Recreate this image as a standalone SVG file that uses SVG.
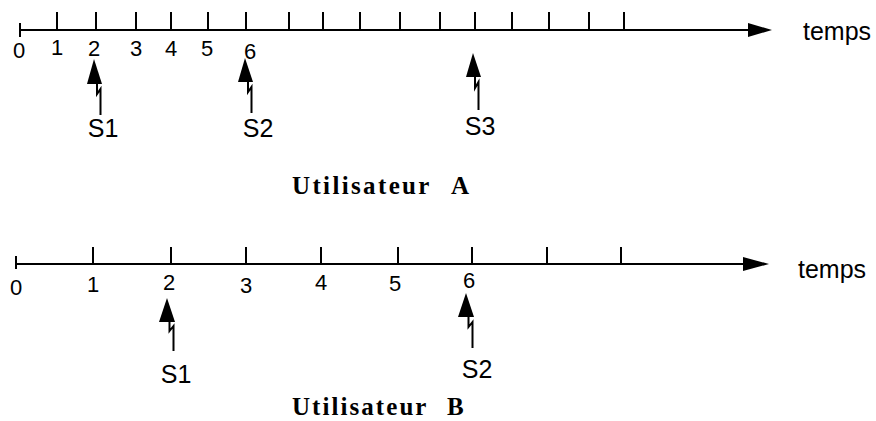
<svg xmlns="http://www.w3.org/2000/svg" width="876" height="421" viewBox="0 0 876 421">
<defs>
<style>
.ax{stroke:#000;stroke-width:2;fill:none}
.tk{stroke:#000;stroke-width:2}
.head{fill:#000}
.sh{stroke:#000;stroke-width:2;fill:none;stroke-linejoin:miter}
.num{font-family:"Liberation Sans",Arial,sans-serif;font-size:22px;fill:#000;text-anchor:middle}
.lbl{font-family:"Liberation Sans",Arial,sans-serif;font-size:25px;fill:#000;text-anchor:middle}
.tm{font-family:"Liberation Sans",Arial,sans-serif;font-size:25px;fill:#000}
.ttl{font-family:"Liberation Serif","Times New Roman",serif;font-size:25px;font-weight:bold;fill:#000}
</style>
</defs>
<rect width="876" height="421" fill="#fff"/>

<g id="axis-A">
<line class="ax" x1="20" y1="30" x2="750" y2="30"/>
<polygon class="head" points="748,23 772,30 748,37"/>
<line class="tk" x1="20" y1="23" x2="20" y2="37"/>
<path class="tk" d="M57,12V30M96,12V30M136,12V30M171,12V30M208,12V30M246,12V30M289,12V30M323,12V30M360,12V30M400,12V30M440,12V30M475,12V30M512,12V30M549,12V30M589,12V30M624,12V30"/>
<text class="num" x="19" y="58">0</text>
<text class="num" x="57" y="55">1</text>
<text class="num" x="94" y="56">2</text>
<text class="num" x="136" y="56">3</text>
<text class="num" x="171" y="56">4</text>
<text class="num" x="207" y="56">5</text>
<text class="num" x="250" y="59">6</text>
<text class="tm" x="803" y="40">temps</text>
</g>

<g id="axis-B">
<line class="ax" x1="16" y1="264" x2="745" y2="264"/>
<polygon class="head" points="743,257 769,264 743,271"/>
<line class="tk" x1="16" y1="256" x2="16" y2="269"/>
<path class="tk" d="M93,247V264M171,247V264M246,247V264M321,247V264M398,247V264M472,247V264M547,247V264M621,247V264"/>
<text class="num" x="16" y="295">0</text>
<text class="num" x="93" y="292">1</text>
<text class="num" x="169" y="290">2</text>
<text class="num" x="246" y="293">3</text>
<text class="num" x="321" y="290">4</text>
<text class="num" x="395" y="291">5</text>
<text class="num" x="469" y="288">6</text>
<text class="tm" x="798" y="278">temps</text>
</g>

<g id="signal-A-S1"><text class="lbl" x="103" y="137">S1</text></g>
<g id="signal-A-S2"><text class="lbl" x="258" y="137">S2</text></g>
<g id="signal-A-S3"><text class="lbl" x="480" y="135">S3</text></g>
<g id="signal-B-S1"><text class="lbl" x="176" y="383">S1</text></g>
<g id="signal-B-S2"><text class="lbl" x="477" y="378">S2</text></g>

<g id="title-A"><text class="ttl" x="292" y="194"><tspan textLength="137" lengthAdjust="spacing">Utilisateur</tspan> <tspan x="451">A</tspan></text></g>
<g id="title-B"><text class="ttl" x="292" y="415"><tspan textLength="134" lengthAdjust="spacing">Utilisateur</tspan> <tspan x="447">B</tspan></text></g>

<g id="connectors">
<polygon class="head" points="94,59 102,84 87,84"/>
<path class="sh" d="M100.5,115V89L97,94V83"/>
<polygon class="head" points="245,58 253,82 238,82"/>
<path class="sh" d="M251.5,113V87L248,92V81"/>
<polygon class="head" points="473,53 481,77 466,77"/>
<path class="sh" d="M478.5,110V82L475,88V76"/>
<polygon class="head" points="167,298 175,322 159,322"/>
<path class="sh" d="M173.5,351V326L169.5,331V321"/>
<polygon class="head" points="466,293 474,317 458,317"/>
<path class="sh" d="M472.5,348V322L468.5,327V316"/>
</g>
</svg>
